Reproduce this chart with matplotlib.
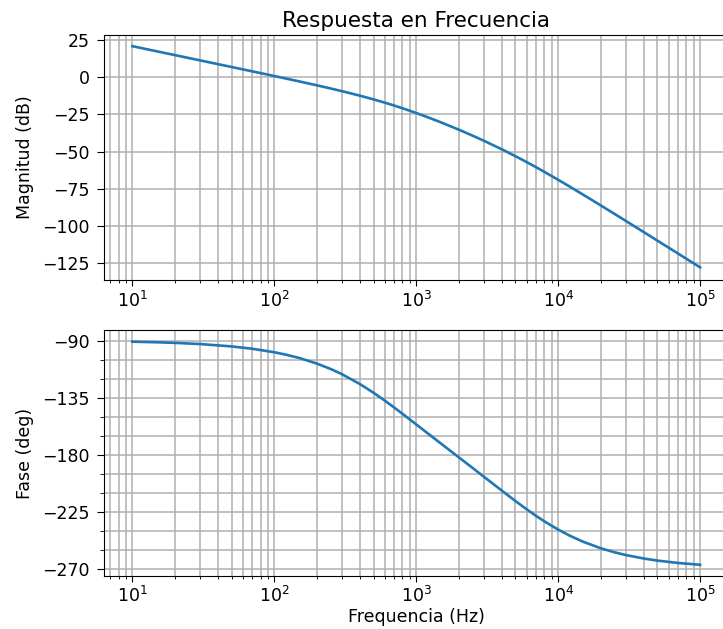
import numpy as np
import matplotlib
matplotlib.use('Agg')
import matplotlib.pyplot as plt
from matplotlib.ticker import MultipleLocator

# frequency response samples (Hz, dB, deg)
freq = [10, 15, 20, 30, 50, 70, 100, 120, 150, 200, 250, 300, 400, 500,
        600, 700, 800, 1000, 1200, 1500, 2000, 2500, 3000, 4000, 5000,
        6000, 7000, 8000, 10000, 12000, 15000, 20000, 25000, 30000,
        40000, 50000, 70000, 100000]
mag_db = [21.0, 17.46, 14.96, 11.43, 6.98, 4.04, 0.89, -0.73, -2.74,
          -5.39, -7.51, -9.31, -12.31, -14.83, -17.03, -19.01, -20.81,
          -24.01, -26.79, -30.38, -35.28, -39.30, -42.72, -48.41, -53.09,
          -57.07, -60.56, -63.66, -68.99, -73.45, -79.02, -86.30, -92.02,
          -96.71, -104.16, -109.95, -118.69, -127.98]
phase_deg = [-90.93, -91.40, -91.86, -92.79, -94.65, -96.50, -99.25,
             -101.08, -103.77, -108.20, -112.46, -116.57, -124.22,
             -131.14, -137.31, -142.82, -147.73, -156.10, -162.98,
             -171.37, -182.12, -190.47, -197.34, -208.18, -216.46,
             -222.99, -228.21, -232.48, -238.97, -243.63, -248.55,
             -253.70, -256.87, -259.01, -261.73, -263.38, -265.26, -266.68]

fs = 12.5
plt.rcParams['font.size'] = fs
plt.rcParams['xtick.major.size'] = 4.0
plt.rcParams['xtick.minor.size'] = 2.3
plt.rcParams['ytick.major.size'] = 5.4
plt.rcParams['ytick.minor.size'] = 3.0
plt.rcParams['ytick.major.pad'] = 5.0

fig = plt.figure(figsize=(7.23, 6.29), dpi=100)
ax1 = fig.add_axes([0.1438, 0.5548, 0.8638, 0.3895])
ax2 = fig.add_axes([0.1438, 0.0843, 0.8638, 0.3911])

ax1.semilogx(freq, mag_db, color='#1f77b4', lw=1.9)
ax1.set_title('Respuesta en Frecuencia', fontsize=15.5, pad=6)
ax1.set_ylabel('Magnitud (dB)', fontsize=fs, labelpad=6)
ax1.yaxis.set_major_locator(MultipleLocator(25))
ax1.set_ylim(-136.5, 28.5)

ax2.semilogx(freq, phase_deg, color='#1f77b4', lw=1.9)
ax2.set_ylabel('Fase (deg)', fontsize=fs, labelpad=6)
ax2.set_xlabel('Frequencia (Hz)', fontsize=fs, labelpad=1)
ax2.yaxis.set_major_locator(MultipleLocator(45))
ax2.yaxis.set_minor_locator(MultipleLocator(15))
ax2.set_ylim(-275.5, -81.7)

for ax in (ax1, ax2):
    ax.set_xlim(10 ** 0.8, 10 ** 5.2)
    ax.grid(True, which='both', color='#b0b0b0', lw=1.1)
    ax.tick_params(labelsize=fs)
    ax.spines['right'].set_visible(False)

fig.savefig('out.png', dpi=100)
